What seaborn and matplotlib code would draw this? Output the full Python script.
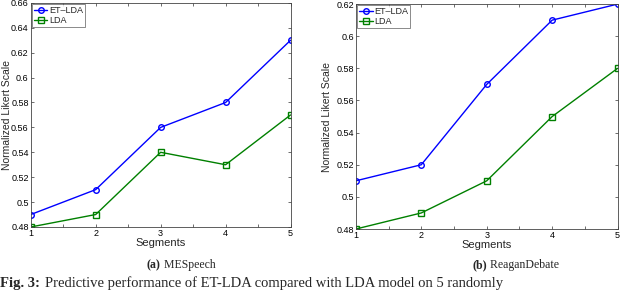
import matplotlib.pyplot as plt
import seaborn as sns
import pandas as pd

segments = [1, 2, 3, 4, 5]

me_etlda = [0.49, 0.51, 0.56, 0.58, 0.63]
me_lda = [0.48, 0.49, 0.54, 0.53, 0.57]

rd_etlda = [0.51, 0.52, 0.57, 0.61, 0.62]
rd_lda = [0.48, 0.49, 0.51, 0.55, 0.58]

series_names = ['ET\u2013LDA', 'LDA']
series_colors = ['#0000ff', '#008000']
series_markers = ['o', 's']

sns.set_style('ticks')
plt.rcParams['font.family'] = ['Liberation Sans', 'DejaVu Sans']
serif = ['Liberation Serif', 'DejaVu Serif']

fig = plt.figure(figsize=(6.4, 2.91), dpi=100)
ax1 = fig.add_axes([0.048, 0.22, 0.406, 0.77])
ax2 = fig.add_axes([0.556, 0.213, 0.409, 0.773])


def draw(ax, etlda, lda, ylim, letter, title, ylab_x):
    for vals, name, col, mk in zip([etlda, lda], series_names, series_colors, series_markers):
        df = pd.DataFrame({'Segments': segments, 'value': vals})
        sns.lineplot(data=df, x='Segments', y='value', color=col, marker=mk,
                     markersize=4, markerfacecolor='none', markeredgecolor=col,
                     markeredgewidth=1.0, linewidth=1.0, label=name, ax=ax)
    ax.set_xlim(1, 5)
    ax.set_ylim(*ylim)
    n = int(round((ylim[1] - ylim[0]) / 0.02))
    yt = [round(ylim[0] + 0.02 * i, 2) for i in range(n + 1)]
    ax.set_yticks(yt)
    ax.set_yticklabels([('%g' % v) for v in yt])
    ax.set_xticks(segments)
    ax.set_xticks([1.5, 2.5, 3.5, 4.5], minor=True)
    ax.tick_params(which='both', direction='in', top=True, right=True, labelsize=6.5,
                   length=2.5, width=0.5, pad=1.5, colors='#333333', labelcolor='black')
    for s in ax.spines.values():
        s.set_linewidth(0.6)
        s.set_color('#444444')
    ax.set_xlabel('Segments', fontsize=8, labelpad=0)
    ax.set_ylabel('Normalized Likert Scale', fontsize=7.5)
    ax.yaxis.set_label_coords(ylab_x, 0.5)
    leg = ax.legend(loc='upper left', fontsize=6.5, frameon=True, fancybox=False,
                    borderpad=0.2, handlelength=1.5, handletextpad=0.2, labelspacing=0.1,
                    borderaxespad=0.15)
    leg.get_frame().set_edgecolor('#333333')
    leg.get_frame().set_linewidth(0.5)
    bbox = ax.get_position()
    fig.text(bbox.x0 + bbox.width / 2, 0.089, letter, fontsize=8.5,
             family=serif, weight='bold', ha='right', va='center')
    fig.text(bbox.x0 + bbox.width / 2, 0.089, ' ' + title, fontsize=8.5,
             family=serif, ha='left', va='center')


draw(ax1, me_etlda, me_lda, (0.48, 0.66), '(a)', 'MESpeech', -0.073)
draw(ax2, rd_etlda, rd_lda, (0.48, 0.62), '(b)', 'ReaganDebate', -0.09)

fig.text(0.0, 0.002, 'Fig. 3:', fontsize=10.5, family=serif,
         weight='bold', ha='left', va='bottom')
fig.text(0.07, 0.002, 'Predictive performance of ET-LDA compared with LDA model on 5 randomly',
         fontsize=10.5, family=serif, ha='left', va='bottom')

fig.savefig('out.png', dpi=100)
